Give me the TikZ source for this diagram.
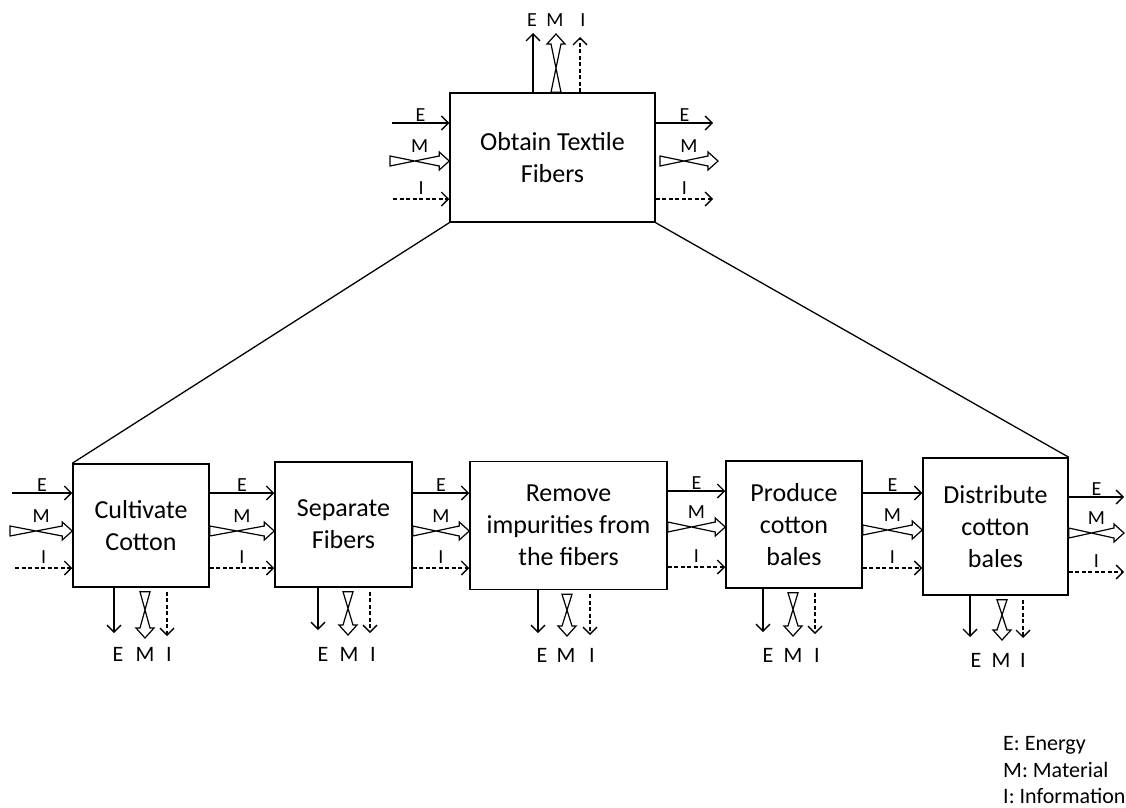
\documentclass[tikz,border=0pt]{standalone}
\usepackage{fontspec}
\setmainfont{Carlito}
\usetikzlibrary{arrows.meta,calc}
\newcommand{\Mshaft}{5pt}
\newcommand{\Mhead}{9pt}
\newcommand{\Mlen}{10pt}
\begin{document}
\begin{tikzpicture}[x=1pt,y=-1pt,
  box/.style={draw, line width=1.5pt, inner sep=0pt, align=center, font=\fontsize{26}{32}\selectfont},
  ea/.style={line width=1.3pt, -{Straight Barb[length=7pt,width=14pt,line width=1.3pt]}},
  ia/.style={ea, dash pattern=on 4pt off 2.5pt},
  ma/.style={line width=1.2pt, line join=miter, to path={
    ($(\tikztostart)!\Mshaft!90:(\tikztotarget)$)
    -- ($($(\tikztotarget)!\Mlen!(\tikztostart)$)!\Mshaft!-90:(\tikztotarget)$)
    -- ($($(\tikztotarget)!\Mlen!(\tikztostart)$)!\Mhead!-90:(\tikztotarget)$)
    -- (\tikztotarget)
    -- ($($(\tikztotarget)!\Mlen!(\tikztostart)$)!\Mhead!90:(\tikztotarget)$)
    -- ($($(\tikztotarget)!\Mlen!(\tikztostart)$)!\Mshaft!90:(\tikztotarget)$)
    -- ($(\tikztostart)!\Mshaft!-90:(\tikztotarget)$)
    -- cycle}},
  lab/.style={font=\fontsize{20}{24}\selectfont, inner sep=0pt},
  elab/.style={lab, midway, anchor=base, yshift=2pt},
  mlab/.style={lab, midway, anchor=base, yshift=9pt},
  ilab/.style={lab, midway, anchor=base, yshift=5pt},
  blab/.style={font=\fontsize{22}{24}\selectfont, inner sep=0pt},
  leg/.style={font=\fontsize{22}{26}\selectfont, inner sep=0pt, anchor=base west},
]
\useasboundingbox (0,0) rectangle (1126,807);

% boxes
\node[box, minimum width=205pt, minimum height=129pt] (top) at (552.5,157.5) {Obtain Textile\\Fibers};
\node[box, minimum width=136pt, minimum height=123pt] (c1) at (141,525.5) {Cultivate\\Cotton};
\node[box, minimum width=137pt, minimum height=125pt] (c2) at (343.5,524.5) {Separate\\Fibers};
\node[box, minimum width=197pt, minimum height=128pt] (c3) at (568.5,525.5) {Remove\\impurities from\\the fibers};
\node[box, minimum width=136pt, minimum height=127pt] (c4) at (794,524.5) {Produce\\cotton\\bales};
\node[box, minimum width=145pt, minimum height=137pt] (c5) at (995.5,526.5) {Distribute\\cotton\\bales};

% decomposition lines
\draw[line width=1.3pt] (top.south west) -- (c1.north west);
\draw[line width=1.3pt] (top.south east) -- (c5.north east);

% top box inputs
\coordinate (tiE) at (392,123);
\coordinate (tiM) at (390,161);
\coordinate (tiI) at (393,199);
\coordinate (tiMe) at (top.west |- tiM);
\draw[ea] (tiE) -- (top.west |- tiE) node[elab] (tiEl) {E};
\draw[ma] (tiM) to (tiMe);
\path (tiM) -- (tiMe) node[mlab] (tiMl) {M};
\draw[ia] (tiI) -- (top.west |- tiI) node[ilab] (tiIl) {I};
% top box outputs right
\coordinate (toE) at (713,123);
\coordinate (toM) at (718,161);
\coordinate (toI) at (713,199);
\coordinate (toMs) at (660,161);
\draw[ea] (top.east |- toE) -- (toE) node[elab] (toEl) {E};
\draw[ma] (toMs) to (toM);
\path (toMs) -- (toM) node[mlab] (toMl) {M};
\draw[ia] (top.east |- toI) -- (toI) node[ilab] (toIl) {I};
% top box outputs up
\coordinate (tuE) at (533,33);
\coordinate (tuM) at (556,34);
\coordinate (tuI) at (580,37);
\coordinate (tuMs) at (top.north -| tuM);
\draw[ea] (top.north -| tuE) -- (tuE);
\draw[ma] (tuMs) to (tuM);
\draw[ia] (top.north -| tuI) -- (tuI);
\node[lab] (tuEl) at (532,20) {E};
\node[lab] (tuMl) at (555,20) {M};
\node[lab] (tuIl) at (583,20) {I};

% inputs to c1
\coordinate (iE) at (12,493);
\coordinate (iM) at (10,531);
\coordinate (iI) at (15,568);
\coordinate (iMe) at (c1.west |- iM);
\draw[ea] (iE) -- (c1.west |- iE) node[elab] (iEl) {E};
\draw[ma] (iM) to (iMe);
\path (iM) -- (iMe) node[mlab] (iMl) {M};
\draw[ia] (iI) -- (c1.west |- iI) node[ilab] (iIl) {I};

% flows between boxes
\coordinate (a1) at (0,493); \coordinate (b1) at (0,531); \coordinate (d1) at (0,568);
\coordinate (a2) at (0,493); \coordinate (b2) at (0,531); \coordinate (d2) at (0,568);
\coordinate (a3) at (0,491); \coordinate (b3) at (0,527); \coordinate (d3) at (0,567);
\coordinate (a4) at (0,493); \coordinate (b4) at (0,530); \coordinate (d4) at (0,568);
\foreach \i/\j in {1/2,2/3,3/4,4/5}{
  \coordinate (ms\i) at (c\i.east |- b\i);
  \coordinate (me\i) at (c\j.west |- b\i);
  \draw[ea] (c\i.east |- a\i) -- (c\j.west |- a\i) node[elab] (l\i E) {E};
  \draw[ma] (ms\i) to (me\i);
  \path (ms\i) -- (me\i) node[mlab] (l\i M) {M};
  \draw[ia] (c\i.east |- d\i) -- (c\j.west |- d\i) node[ilab] (l\i I) {I};
}
% c5 outputs
\coordinate (oE) at (1124,497);
\coordinate (oM) at (1124,533);
\coordinate (oI) at (1124,572);
\coordinate (oMs) at (c5.east |- oM);
\draw[ea] (c5.east |- oE) -- (oE) node[elab] (oEl) {E};
\draw[ma] (oMs) to (oM);
\path (oMs) -- (oM) node[mlab] (oMl) {M};
\draw[ia] (c5.east |- oI) -- (oI) node[ilab] (oIl) {I};

% bottom outputs
\coordinate (e1) at (114,633); \coordinate (m1) at (145,638); \coordinate (n1) at (167,636);
\coordinate (e2) at (318,630); \coordinate (m2) at (348,635); \coordinate (n2) at (370,633);
\coordinate (e3) at (538,633); \coordinate (m3) at (567,636); \coordinate (n3) at (590,635);
\coordinate (e4) at (763,632); \coordinate (m4) at (793,636); \coordinate (n4) at (815,634);
\coordinate (e5) at (970,637); \coordinate (m5) at (1002,640); \coordinate (n5) at (1023,638);
\foreach \i in {1,...,5}{
  \coordinate (ms\i) at ([yshift=-4pt]c\i.south -| m\i);
  \draw[ea] (c\i.south -| e\i) -- (e\i);
  \draw[ma] (ms\i) to (m\i);
  \draw[ia] ([yshift=-4pt]c\i.south -| n\i) -- (n\i);
}
\node[blab] (b1E) at (118,654) {E}; \node[blab] (b1M) at (145,654) {M}; \node[blab] (b1I) at (169,654) {I};
\node[blab] (b2E) at (323,654) {E}; \node[blab] (b2M) at (349,654) {M}; \node[blab] (b2I) at (373,654) {I};
\node[blab] (b3E) at (542,655) {E}; \node[blab] (b3M) at (566,655) {M}; \node[blab] (b3I) at (592,655) {I};
\node[blab] (b4E) at (768,655) {E}; \node[blab] (b4M) at (793,655) {M}; \node[blab] (b4I) at (817,655) {I};
\node[blab] (b5E) at (976,660) {E}; \node[blab] (b5M) at (1001,660) {M}; \node[blab] (b5I) at (1023,660) {I};

% legend
\node[leg] (lg1) at (1003,750) {E: Energy};
\node[leg] (lg2) at (1003,777) {M: Material};
\node[leg] (lg3) at (1003,803) {I: Information};
\end{tikzpicture}
\end{document}
